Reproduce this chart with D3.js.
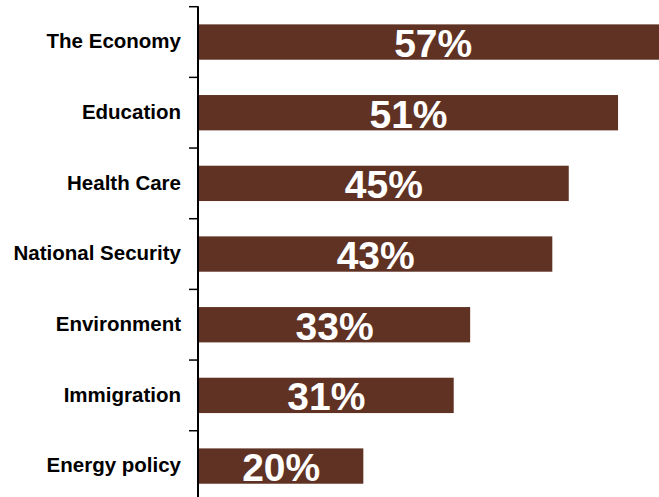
<!DOCTYPE html>
<html>
<head>
<meta charset="utf-8">
<script src="https://cdn.jsdelivr.net/npm/d3@7"></script>
<style>
  html, body { margin: 0; padding: 0; background: #fff; }
  svg { display: block; }
</style>
</head>
<body>
<svg id="chart" width="659" height="497"></svg>
<script>
// Share of respondents naming each issue
const categories = ["The Economy", "Education", "Health Care", "National Security", "Environment", "Immigration", "Energy policy"];
const values = [57, 51, 45, 43, 33, 31, 20];
const xDomain = [0, 60];

const svg = d3.select("#chart");
const axisX = 198;
const plotTop = 6.7, plotBottom = 501.4;

const x = d3.scaleLinear().domain(xDomain).range([199, 692]);
const y = d3.scaleBand()
  .domain(categories)
  .range([plotTop, plotBottom])
  .paddingInner(0.5)
  .paddingOuter(0.25);

const step = y.step();
const data = categories.map((c, i) => ({ c, v: values[i] }));

// bars
svg.append("g").selectAll("rect")
  .data(data).join("rect")
  .attr("x", x(0))
  .attr("y", d => y(d.c))
  .attr("width", d => x(d.v) - x(0))
  .attr("height", y.bandwidth())
  .attr("fill", "#5f3224");

// value labels centred on each bar
svg.append("g").selectAll("text")
  .data(data).join("text")
  .attr("x", d => (x(0) + x(d.v)) / 2)
  .attr("y", d => y(d.c) + y.bandwidth() / 2)
  .attr("dy", "0.38em")
  .attr("text-anchor", "middle")
  .attr("font-family", "Liberation Sans, Arial, sans-serif")
  .attr("font-weight", "bold")
  .attr("font-size", 39)
  .attr("fill", "#fff")
  .text(d => d.v + "%");

// category axis: vertical line with ticks between categories
const ax = svg.append("g");
ax.append("line")
  .attr("x1", axisX).attr("x2", axisX)
  .attr("y1", plotTop - 0.5).attr("y2", 497)
  .attr("stroke", "#000").attr("stroke-width", 2);

const boundaries = categories.map(c => y(c) - step * 0.25);
ax.selectAll("line.tick")
  .data(boundaries).join("line")
  .attr("class", "tick")
  .attr("x1", axisX - 9).attr("x2", axisX)
  .attr("y1", d => d).attr("y2", d => d)
  .attr("stroke", "#000").attr("stroke-width", 1.5);

ax.selectAll("text")
  .data(categories).join("text")
  .attr("x", 181)
  .attr("y", d => y(d) + y.bandwidth() / 2)
  .attr("dy", "0.3em")
  .attr("text-anchor", "end")
  .attr("font-family", "Liberation Sans, Arial, sans-serif")
  .attr("font-weight", "bold")
  .attr("font-size", 20.5)
  .attr("fill", "#000")
  .text(d => d);
</script>
</body>
</html>
